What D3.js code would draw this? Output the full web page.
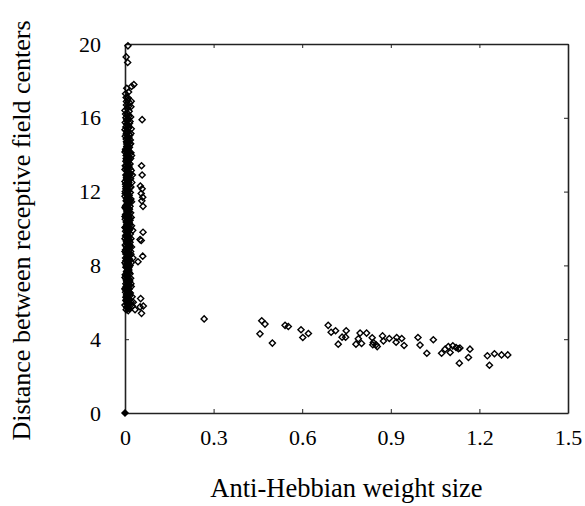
<!DOCTYPE html>
<html>
<head>
<meta charset="utf-8">
<script src="https://cdn.jsdelivr.net/npm/d3@7"></script>
<style>
  body { margin: 0; background: #fff; }
  text { font-family: "Liberation Serif", "DejaVu Serif", serif; fill: #000; }
</style>
</head>
<body>
<div id="chart"></div>
<script>
// tick values
var xTicks = [0, 0.3, 0.6, 0.9, 1.2, 1.5];
var yTicks = [0, 4, 8, 12, 16, 20];

// points along x ~ 0 (weight nearly zero)
var clusterPoints = [
  [0.010,19.9],[0.004,19.3],[0.009,19.0],[0.022,17.7],[0.012,17.4],[0.004,17.1],[0.016,16.8],[0.020,16.6],
  [0.008,16.5],[0.002,16.2],[0.013,16.1],[0.006,15.9],[0.017,15.8],[0.010,15.6],[0.003,15.5],[0.021,15.4],
  [0.008,15.3],[0.014,15.1],[0.001,15.0],[0.011,14.9],[0.018,14.8],[0.005,14.7],[0.009,14.5],[0.015,14.4],
  [0.002,14.3],[0.012,14.2],[0.020,14.1],[0.007,14.0],[0.004,13.8],[0.013,13.7],[0.009,13.6],[0.017,13.5],
  [0.001,13.4],[0.011,13.3],[0.006,13.1],[0.015,13.0],[0.003,12.9],[0.010,12.8],[0.019,12.7],[0.007,12.6],
  [0.013,12.5],[0.002,12.4],[0.009,12.3],[0.016,12.2],[0.005,12.1],[0.011,12.0],[0.001,11.9],[0.014,11.8],
  [0.008,11.7],[0.020,11.6],[0.004,11.5],[0.012,11.4],[0.006,11.3],[0.017,11.2],[0.002,11.1],[0.010,11.0],
  [0.014,10.9],[0.005,10.8],[0.009,10.7],[0.021,10.6],[0.001,10.5],[0.012,10.4],[0.007,10.3],[0.016,10.2],
  [0.003,10.1],[0.010,10.0],[0.013,9.9],[0.006,9.8],[0.018,9.7],[0.002,9.6],[0.009,9.5],[0.014,9.4],
  [0.005,9.3],[0.011,9.2],[0.001,9.1],[0.016,9.0],[0.007,8.9],[0.012,8.8],[0.004,8.7],[0.020,8.6],
  [0.009,8.5],[0.002,8.4],[0.013,8.3],[0.006,8.2],[0.010,8.1],[0.017,8.0],[0.003,7.9],[0.011,7.8],
  [0.007,7.7],[0.014,7.6],[0.001,7.5],[0.009,7.4],[0.019,7.3],[0.005,7.2],[0.012,7.1],[0.003,7.0],
  [0.015,6.9],[0.008,6.8],[0.001,6.7],[0.011,6.6],[0.018,6.5],[0.005,6.4],[0.009,6.3],[0.013,6.2],
  [0.003,6.1],[0.021,6.0],[0.007,5.9],[0.025,5.8],[0.012,5.7],[0.004,5.6],
  [0.006,17.6],[0.003,16.0],[0.015,15.7],[0.007,15.2],[0.019,14.6],[0.011,14.35],[0.004,13.95],[0.016,13.25],
  [0.008,12.85],[0.003,12.15],[0.018,11.95],[0.010,11.55],[0.005,11.05],[0.015,10.55],[0.008,10.15],[0.002,9.85],
  [0.012,9.55],[0.017,9.25],[0.006,8.95],[0.010,8.65],[0.015,8.35],[0.004,8.05],[0.013,7.75],[0.008,7.45],
  [0.016,7.15],[0.004,6.85],[0.014,6.55],[0.010,6.25],[0.017,5.95],[0.009,5.75],[0.020,7.0],[0.022,9.0],
  [0.023,12.5],[0.019,13.8],[0.021,16.9],[0.018,10.0],[0.024,6.3],[0.030,17.8],[0.026,9.9],[0.027,8.4],
  [0.034,5.6],[0.028,6.0],[0.025,12.9],
  [0.000,16.4],[0.005,16.7],[0.012,15.95],[0.000,15.35],[0.016,15.05],[0.006,14.45],[0.000,14.15],[0.014,13.85],
  [0.007,13.55],[0.000,13.2],[0.012,13.05],[0.018,12.95],[0.005,12.65],[0.000,12.55],[0.014,12.35],[0.007,12.05],
  [0.000,11.75],[0.016,11.45],[0.009,11.35],[0.000,11.15],[0.013,11.1],[0.006,10.95],[0.019,10.85],[0.000,10.65],
  [0.011,10.45],[0.004,10.35],[0.000,10.05],[0.015,9.95],[0.008,9.75],[0.000,9.45],[0.012,9.15],[0.004,9.05],
  [0.000,8.75],[0.016,8.55],[0.007,8.45],[0.000,8.15],[0.012,7.95],[0.005,7.65],[0.000,7.35],[0.014,7.25],
  [0.007,6.95],[0.000,6.75],[0.012,6.45],[0.005,6.15],[0.000,5.85],[0.015,5.65],
  [0.002,17.3],[0.009,16.95],[0.014,16.35],[0.019,16.05],[0.001,15.75],[0.011,15.45],[0.020,15.15],[0.004,14.85],
  [0.016,14.55],[0.010,14.25],[0.022,13.95],[0.003,13.65],[0.008,13.35],[0.021,13.15],[0.012,12.75],[0.004,12.45],
  [0.020,12.25],[0.001,12.0],[0.010,11.85],[0.022,11.45],[0.003,11.25],[0.015,11.05],[0.002,10.75],[0.017,10.45],
  [0.006,10.2],[0.022,10.15],[0.011,9.85],[0.004,9.65],[0.020,9.45],[0.008,9.25],[0.014,9.05],[0.002,8.85],
  [0.019,8.75],[0.011,8.45],[0.003,8.25],[0.021,8.15],[0.009,7.85],[0.017,7.55],[0.004,7.45],[0.011,7.25],
  [0.021,6.85],[0.002,6.55],[0.016,6.35],[0.006,6.05],[0.019,5.85],[0.011,5.55],[0.008,16.25],[0.013,14.65],
  [0.006,15.65],[0.009,15.42],[0.004,15.12],[0.012,14.78],[0.006,14.58],[0.003,14.22],[0.010,14.08],[0.006,13.74],
  [0.011,13.48],[0.004,13.28],[0.009,12.96],[0.006,12.72],[0.011,12.58],[0.003,12.28],[0.008,11.98],[0.012,11.78],
  [0.005,11.62],[0.009,11.42],[0.003,11.18],[0.008,10.88],[0.012,10.72],[0.004,10.58],[0.007,10.42],[0.011,10.22],
  [0.005,9.98],[0.009,9.68],[0.004,9.38],[0.008,9.18],[0.011,8.98],[0.003,8.62],[0.008,8.32],[0.012,8.18],
  [0.005,7.98],[0.009,7.62],[0.003,7.28],[0.008,7.08],[0.011,6.88],[0.005,6.62],[0.008,6.42],[0.003,6.28],
  [0.010,6.02],[0.006,5.72],[0.013,15.48],[0.015,14.12],[0.014,12.88],[0.013,11.62],[0.014,10.32],[0.015,9.12],
  [0.013,7.88],[0.014,6.72],[0.007,16.12],[0.005,16.88],[0.012,16.62],[0.010,17.08],
  [0.007,15.82],[0.011,15.58],[0.005,15.28],[0.009,15.02],[0.013,14.92],[0.007,14.68],[0.010,14.38],[0.005,14.18],
  [0.012,13.92],[0.008,13.72],[0.005,13.42],[0.013,13.38],[0.007,13.18],[0.010,12.92],[0.005,12.78],[0.012,12.62],
  [0.008,12.42],[0.006,12.22],[0.012,12.08],[0.007,11.88],[0.010,11.68],[0.006,11.48],[0.011,11.28],[0.007,11.12],
  [0.010,10.92],[0.006,10.68],[0.013,10.62],[0.009,10.38],[0.006,10.12],[0.012,9.92],[0.007,9.62],[0.010,9.42],
  [0.006,9.22],[0.013,9.32],[0.009,8.88],[0.006,8.68],[0.012,8.58],[0.007,8.38],[0.010,8.22],[0.006,7.92],
  [0.012,7.68],[0.007,7.52],[0.010,7.32],[0.006,7.12],[0.012,6.98],[0.007,6.72],[0.010,6.52],[0.006,6.32],
  [0.012,6.12],[0.008,5.92]
];

// second column near x ~ 0.06
var outerPoints = [
  [0.058,15.9],[0.056,13.4],[0.058,12.9],[0.052,12.3],[0.058,12.15],[0.055,11.9],[0.060,11.7],[0.057,11.5],
  [0.061,11.2],[0.061,9.8],[0.051,9.4],[0.055,9.35],[0.060,8.5],[0.044,8.2],[0.053,6.2],[0.062,5.8],
  [0.051,5.75],[0.056,5.4]
];

// points with large anti-Hebbian weights
var tailPoints = [
  [0.268,5.1],
  [0.463,5.0],[0.474,4.82],[0.457,4.29],[0.499,3.79],[0.542,4.75],[0.553,4.69],[0.596,4.51],[0.621,4.31],
  [0.602,4.09],[0.688,4.75],[0.698,4.38],[0.713,4.46],[0.722,3.73],[0.735,4.11],[0.749,4.46],[0.747,4.11],
  [0.796,4.33],[0.818,4.33],[0.790,4.02],[0.782,3.73],[0.801,3.77],[0.837,4.08],[0.841,3.82],[0.839,3.70],
  [0.850,3.70],[0.854,3.60],[0.872,4.18],[0.875,3.90],[0.895,4.04],[0.920,4.09],[0.918,3.84],[0.937,4.04],
  [0.945,3.66],[0.992,4.09],[0.999,3.68],[1.022,3.24],[1.044,3.97],[1.072,3.24],[1.084,3.46],[1.095,3.60],
  [1.101,3.28],[1.110,3.64],[1.121,3.55],[1.129,3.48],[1.134,3.52],[1.132,2.70],[1.168,3.46],[1.163,3.01],
  [1.227,3.10],[1.234,2.59],[1.251,3.21],[1.275,3.15],[1.296,3.15]
];

// pile of points at the origin
var originPoints = [[0,0]];

var margin = { top: 44, right: 17, bottom: 93, left: 125 },
    totalW = 585, totalH = 506,
    width = totalW - margin.left - margin.right,
    height = totalH - margin.top - margin.bottom;

var svg = d3.select('#chart').append('svg')
    .attr('width', totalW)
    .attr('height', totalH);

var g = svg.append('g')
    .attr('transform', `translate(${margin.left},${margin.top})`);

var x = d3.scaleLinear().domain([0, 1.5]).range([0, width]);
var y = d3.scaleLinear().domain([0, 20]).range([height, 0]);

var axisColor = '#222';

// inward ticks on all four sides
var tickLen = 4;
g.append('g')
    .attr('class', 'axis')
    .attr('transform', `translate(0,${height})`)
    .call(d3.axisBottom(x).tickValues(xTicks).tickSizeInner(-tickLen).tickSizeOuter(0)
        .tickPadding(16).tickFormat(d => d === 0 ? '0' : d3.format('.1f')(d)));
g.append('g')
    .attr('class', 'axis')
    .call(d3.axisLeft(y).tickValues(yTicks).tickSizeInner(-tickLen).tickSizeOuter(0).tickPadding(24));
g.append('g')
    .attr('class', 'axis top')
    .call(d3.axisTop(x).tickValues(xTicks).tickSizeInner(-tickLen).tickSizeOuter(0).tickFormat(''));
g.append('g')
    .attr('class', 'axis right')
    .attr('transform', `translate(${width},0)`)
    .call(d3.axisRight(y).tickValues(yTicks).tickSizeInner(-tickLen).tickSizeOuter(0).tickFormat(''));

g.selectAll('.axis path').attr('stroke', axisColor).attr('stroke-width', 1.6);
g.selectAll('.axis line').attr('stroke', axisColor).attr('stroke-width', 1);
g.selectAll('.axis text')
    .style('font-family', '"Liberation Serif", serif')
    .style('font-size', '22px')
    .attr('fill', '#000');

var diamond = d3.symbol().type(d3.symbolDiamond2).size(24);

// hollow diamonds, so overlapping outlines build up like the original plot
function drawPoints(data, fill) {
    g.append('g').selectAll('path')
        .data(data)
        .enter()
        .append('path')
            .attr('d', diamond)
            .attr('transform', d => `translate(${x(d[0])},${y(d[1])})`)
            .attr('fill', fill)
            .attr('stroke', '#000')
            .attr('stroke-width', 1.4);
}

drawPoints(clusterPoints, 'none');
drawPoints(outerPoints, 'none');
drawPoints(tailPoints, 'none');
drawPoints(originPoints, '#000');

// axis titles
svg.append('text')
    .attr('x', margin.left + width / 2)
    .attr('y', 497)
    .attr('text-anchor', 'middle')
    .style('font-size', '26.5px')
    .text('Anti-Hebbian weight size');

svg.append('text')
    .attr('transform', `translate(30,${margin.top + height / 2 + 2}) rotate(-90)`)
    .attr('text-anchor', 'middle')
    .style('font-size', '26px')
    .text('Distance between receptive field centers');
</script>
</body>
</html>
